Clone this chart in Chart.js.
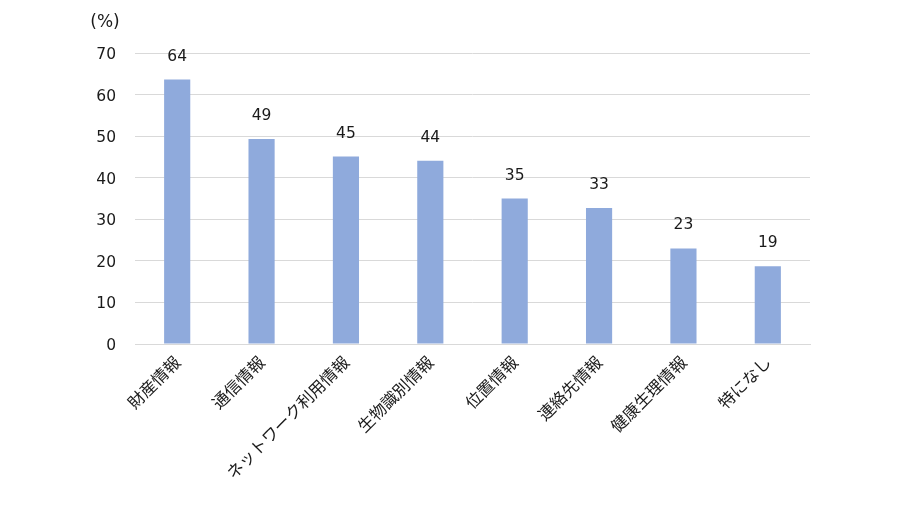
<!DOCTYPE html>
<html><head><meta charset="utf-8">
<script src="https://cdn.jsdelivr.net/npm/chart.js@4/dist/chart.umd.min.js"></script>
<style>html,body{margin:0;padding:0;background:#fff}#w{width:920px;height:510px}</style>
</head><body><div id="w"><canvas id="c" width="920" height="510"></canvas></div>
<script>
const categories = ["財産情報","通信情報","ネットワーク利用情報","生物識別情報","位置情報","連絡先情報","健康生理情報","特になし"];
const values = [63.6, 49.3, 45.1, 44.1, 35.0, 32.7, 23.0, 18.7];
const valueLabels = ["64","49","45","44","35","33","23","19"];
const yTicks = [0,10,20,30,40,50,60,70];
const unitLabel = "(%)";
const FONT = "'Noto Sans CJK JP', 'Noto Sans', sans-serif";
const NUMFONT = "'DejaVu Sans', sans-serif";

const overlay = {
  id:'overlay',
  afterDatasetsDraw(chart){
    const ctx = chart.ctx;
    const meta = chart.getDatasetMeta(0);
    ctx.save();
    ctx.fillStyle = '#1a1a1a';
    ctx.font = '15.5px ' + NUMFONT;
    ctx.textAlign = 'center';
    ctx.textBaseline = 'middle';
    meta.data.forEach((bar,i)=>{
      ctx.fillText(valueLabels[i], bar.x, bar.y - 23);
    });
    ctx.font = '17px ' + NUMFONT;
    ctx.fillText(unitLabel, 105, 23);
    ctx.restore();
  }
};

new Chart(document.getElementById('c'), {
  type:'bar',
  data:{labels:categories, datasets:[{data:values, backgroundColor:'#8FAADC', categoryPercentage:1, barPercentage:0.31}]},
  options:{
    responsive:false, animation:false,
    layout:{padding:{top:53, right:110, left:0, bottom:0}},
    plugins:{legend:{display:false}, tooltip:{enabled:false}},
    scales:{
      x:{
        grid:{display:false, drawTicks:false},
        border:{display:true, color:'#d9d9d9', width:1},
        ticks:{color:'#1a1a1a', font:{family:FONT, size:16.5}, maxRotation:45, minRotation:45, padding:8, autoSkip:false},
        afterFit(s){ s.height = 166; }
      },
      y:{
        min:0, max:70,
        afterBuildTicks(s){ s.ticks = yTicks.map(v=>({value:v})); },
        grid:{color:'#d9d9d9', drawTicks:false},
        border:{display:false},
        ticks:{color:'#1a1a1a', font:{family:NUMFONT, size:15.5}, padding:19, labelOffset:2},
        afterFit(s){ s.width = 135; }
      }
    }
  },
  plugins:[overlay]
});
</script></body></html>
